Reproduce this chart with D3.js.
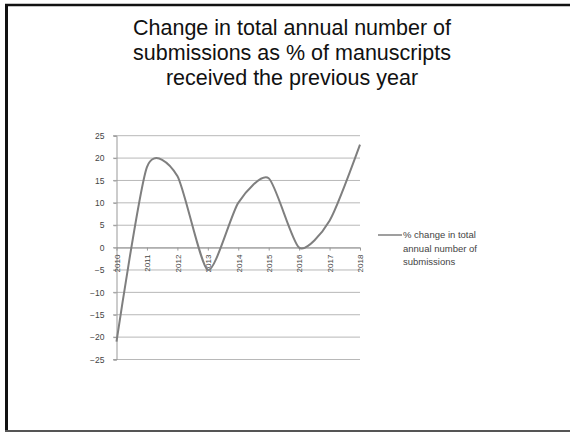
<!DOCTYPE html>
<html>
<head>
<meta charset="utf-8">
<script src="https://cdn.jsdelivr.net/npm/d3@7"></script>
<style>
html,body{margin:0;padding:0;background:#fff;}
svg{display:block;}
</style>
</head>
<body>
<script>
const titleLines = ["Change in total annual number of", "submissions as % of manuscripts", "received the previous year"];
const years = ["2010","2011","2012","2013","2014","2015","2016","2017","2018"];
const values = [-21, 18, 16, -5, 10, 15.5, 0, 6, 23];
const yTicks = [25,20,15,10,5,0,-5,-10,-15,-20,-25];
const legendLines = ["% change in total", "annual number of", "submissions"];

const W = 570, H = 432;
const svg = d3.select("body").append("svg").attr("width", W).attr("height", H);
svg.append("rect").attr("width", W).attr("height", H).attr("fill", "#fff");

// frame
svg.append("line").attr("x1", 6.5).attr("x2", 6.5).attr("y1", 4).attr("y2", H).attr("stroke", "#111").attr("stroke-width", 3);
svg.append("line").attr("x1", 5).attr("x2", W).attr("y1", 5).attr("y2", 5).attr("stroke", "#111").attr("stroke-width", 2.5);
svg.append("line").attr("x1", 5).attr("x2", W).attr("y1", 431).attr("y2", 431).attr("stroke", "#555").attr("stroke-width", 2);

// title
svg.append("g").selectAll("text").data(titleLines).join("text")
  .attr("x", 292).attr("y", (d,i) => 34.5 + i*25)
  .attr("text-anchor", "middle")
  .attr("font-family", "'Liberation Sans', Arial, sans-serif")
  .attr("font-size", 21.5).attr("fill", "#111")
  .text(d => d);

const x = d3.scalePoint().domain(years).range([116.5, 360]);
const y = d3.scaleLinear().domain([-25, 25]).range([359.5, 135.7]);

// gridlines
svg.append("g").selectAll("line").data(yTicks).join("line")
  .attr("x1", 113).attr("x2", 360).attr("y1", d => y(d)).attr("y2", d => y(d))
  .attr("stroke", "#b8b8b8").attr("stroke-width", 1);

// y axis
const yAxis = svg.append("g").attr("transform", `translate(116.5,0)`)
  .call(d3.axisLeft(y).tickValues(yTicks).tickSize(3).tickPadding(9).tickFormat(d3.format("d")));
yAxis.select(".domain").attr("stroke", "#999");
yAxis.selectAll(".tick line").attr("stroke", "#999");
yAxis.selectAll("text").attr("font-family", "'Liberation Sans', Arial, sans-serif").attr("font-size", 8.5).attr("fill", "#444");

// x axis at zero
const xAxis = svg.append("g").attr("transform", `translate(0,${y(0)})`)
  .call(d3.axisBottom(x).tickSize(3).tickSizeOuter(0));
xAxis.select(".domain").attr("stroke", "#999");
xAxis.selectAll(".tick line").attr("stroke", "#999");
xAxis.selectAll("text")
  .attr("font-family", "'Liberation Sans', Arial, sans-serif").attr("font-size", 8).attr("fill", "#444")
  .attr("transform", "rotate(-90)")
  .attr("x", -7).attr("y", 0).attr("dy", "0.35em")
  .attr("text-anchor", "end");

// line
const line = d3.line().x((d,i) => x(years[i])).y(d => y(d)).curve(d3.curveCardinal.tension(0.3));
svg.append("path").datum(values).attr("d", line)
  .attr("fill", "none").attr("stroke", "#7f7f7f").attr("stroke-width", 2);

// legend
svg.append("line").attr("x1", 378).attr("x2", 402).attr("y1", 235).attr("y2", 235)
  .attr("stroke", "#7f7f7f").attr("stroke-width", 1.5);
svg.append("g").selectAll("text").data(legendLines).join("text")
  .attr("x", 403).attr("y", (d,i) => 238 + i*13.5)
  .attr("font-family", "'Liberation Sans', Arial, sans-serif").attr("font-size", 9.5).attr("fill", "#444")
  .text(d => d);
</script>
</body>
</html>
